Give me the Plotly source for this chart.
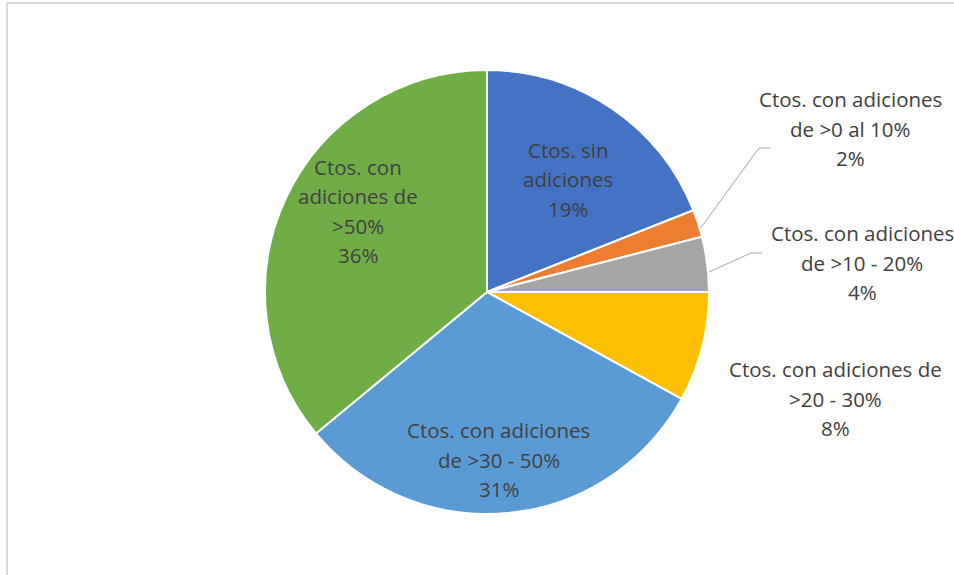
import plotly.graph_objects as go

# Data
categories = [
    "Ctos. sin adiciones",
    "Ctos. con adiciones de >0 al 10%",
    "Ctos. con adiciones de >10 - 20%",
    "Ctos. con adiciones de >20 - 30%",
    "Ctos. con adiciones de >30 - 50%",
    "Ctos. con adiciones de >50%",
]
values = [19, 2, 4, 8, 31, 36]
label_lines = [
    ["Ctos. sin", "adiciones"],
    ["Ctos. con adiciones", "de >0 al 10%"],
    ["Ctos. con adiciones", "de >10 - 20%"],
    ["Ctos. con adiciones de", ">20 - 30%"],
    ["Ctos. con adiciones", "de >30 - 50%"],
    ["Ctos. con", "adiciones de", ">50%"],
]
colors = ["#4472C4", "#ED7D31", "#A5A5A5", "#FFC000", "#5B9BD5", "#70AD47"]

W, H = 954, 575
CX, CY, R = 487, 292, 222
FONT = dict(family="Open Sans", size=20.5, color="#404040")
LINE_GAP = 29.5


def px(x):
    return x / W


def py(y):
    return 1 - y / H


fig = go.Figure(
    go.Pie(
        labels=categories,
        values=values,
        sort=False,
        direction="clockwise",
        rotation=0,
        marker=dict(colors=colors, line=dict(color="white", width=2)),
        textinfo="none",
        hoverinfo="label+percent",
        showlegend=False,
        domain=dict(x=[px(CX - R), px(CX + R)], y=[py(CY + R), py(CY - R)]),
    )
)

# Label block centres (first line centre) for each slice
label_pos = [
    (568, 150),
    (850, 99),
    (862, 233),
    (835, 369),
    (499, 430),
    (358, 167),
]

total = sum(values)
annotations = []
for lines, v, (lx, ly) in zip(label_lines, values, label_pos):
    all_lines = lines + [f"{round(100 * v / total)}%"]
    for i, t in enumerate(all_lines):
        annotations.append(
            dict(
                x=px(lx), y=py(ly + i * LINE_GAP), xref="paper", yref="paper",
                text=t, showarrow=False, font=FONT,
                xanchor="center", yanchor="middle",
            )
        )

# Leader lines for the small slices
leaders = [
    ((700.7, 228), (759, 148), (770, 148)),
    ((709, 272), (751, 253), (762, 253)),
]
shapes = []
for pts in leaders:
    path = "M " + " L ".join(f"{px(x)},{py(y)}" for x, y in pts)
    shapes.append(dict(type="path", xref="paper", yref="paper", path=path,
                       line=dict(color="#A6A6A6", width=1)))

# Chart frame
shapes.append(dict(type="rect", xref="paper", yref="paper",
                   x0=px(7), x1=1.2, y0=-0.2, y1=py(3),
                   line=dict(color="#D9D9D9", width=2)))

fig.update_layout(
    width=W, height=H,
    margin=dict(l=0, r=0, t=0, b=0),
    paper_bgcolor="white",
    plot_bgcolor="white",
    annotations=annotations,
    shapes=shapes,
)

fig.write_html("out.html")
